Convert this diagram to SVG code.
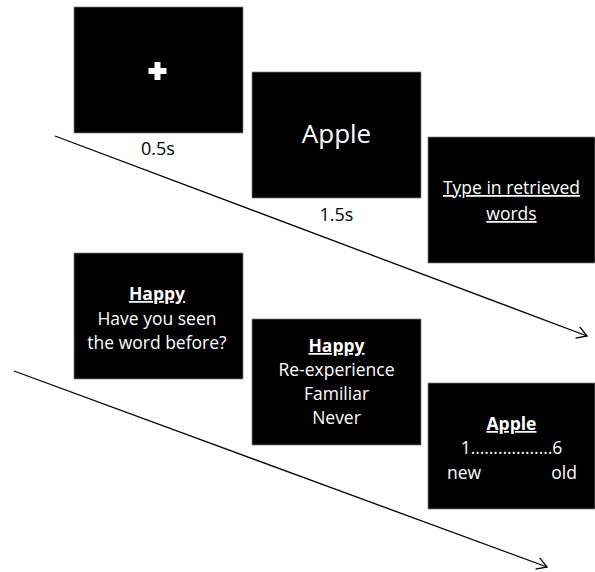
<svg xmlns="http://www.w3.org/2000/svg" width="595" height="572" viewBox="0 0 595 572">
<style>
.box{fill:#000;stroke:#7f7f7f;stroke-width:0.75}
.t{font-family:"Open Sans","Noto Sans",sans-serif;fill:#fff;text-anchor:middle;font-size:17.5px}
.b{font-weight:bold;text-decoration:underline}
.u{text-decoration:underline}
.lbl{font-family:"Open Sans","Noto Sans",sans-serif;fill:#000;text-anchor:middle;font-size:18px}
.conn{stroke:#000;stroke-width:1.3;fill:none}
</style>
<defs>
<marker id="arr" markerWidth="14" markerHeight="14" refX="12" refY="7" orient="auto" markerUnits="userSpaceOnUse">
<path d="M2,1 L12,7 L2,13" fill="none" stroke="#000" stroke-width="1.3"/>
</marker>
</defs>
<g id="connectors">
<line class="conn" x1="55" y1="136" x2="587" y2="336" marker-end="url(#arr)"/>
<line class="conn" x1="14" y1="371" x2="547" y2="567" marker-end="url(#arr)"/>
</g>
<g id="fixation">
<rect class="box" x="74" y="7" width="169" height="126"/>
<path d="M154.5,62 h6 v6 h6 v6 h-6 v6 h-6 v-6 h-6 v-6 h6 z" fill="#fff"/>
<text class="lbl" x="158" y="155">0.5s</text>
</g>
<g id="word">
<rect class="box" x="252" y="72" width="169" height="126"/>
<text class="t" x="336.5" y="143" style="font-size:26px">Apple</text>
<text class="lbl" x="336.5" y="221">1.5s</text>
</g>
<g id="recall">
<rect class="box" x="428" y="137" width="167" height="126"/>
<text class="t u" x="511.5" y="194">Type in retrieved</text>
<text class="t u" x="511.5" y="220">words</text>
</g>
<g id="recognition">
<rect class="box" x="74" y="253" width="169" height="126"/>
<text class="t b" x="157" y="300">Happy</text>
<text class="t" x="157" y="325">Have you seen</text>
<text class="t" x="157" y="349">the word before?</text>
</g>
<g id="remember-know">
<rect class="box" x="252" y="319" width="169" height="126"/>
<text class="t b" x="336.5" y="352">Happy</text>
<text class="t" x="336.5" y="376">Re-experience</text>
<text class="t" x="336.5" y="400">Familiar</text>
<text class="t" x="336.5" y="424">Never</text>
</g>
<g id="confidence">
<rect class="box" x="428" y="383" width="167" height="126"/>
<text class="t b" x="511.5" y="430">Apple</text>
<text class="t" x="511.5" y="454">1………………6</text>
<text class="t" x="447" y="479" style="text-anchor:start">new</text>
<text class="t" x="577" y="479" style="text-anchor:end">old</text>
</g>
</svg>
